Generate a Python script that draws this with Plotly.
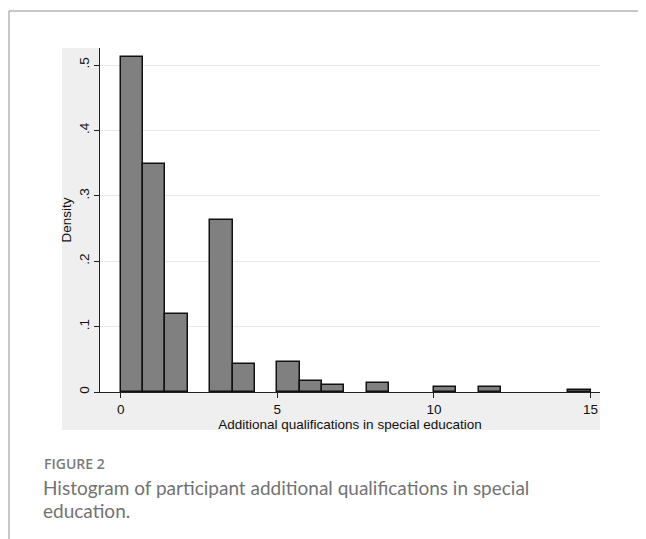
import numpy as np
import plotly.graph_objects as go

# ---- data ----
bin_start = 0.0
bin_end = 15.0
n_bins = 21
density = [0.512, 0.348, 0.119, 0.0, 0.263, 0.043, 0.0, 0.046, 0.017, 0.011,
           0.0, 0.014, 0.0, 0.0, 0.008, 0.0, 0.008, 0.0, 0.0, 0.0, 0.003]
x_tick_vals = [0, 5, 10, 15]
x_tick_text = ["0", "5", "10", "15"]
y_tick_vals = [0, 0.1, 0.2, 0.3, 0.4, 0.5]
y_tick_text = ["0", ".1", ".2", ".3", ".4", ".5"]
x_title = "Additional qualifications in special education"
y_title = "Density"
caption_label = "FIGURE 2"
caption_lines = ["Histogram of participant additional qualifications in special",
                 "education."]

bin_w = (bin_end - bin_start) / n_bins
centers = bin_start + bin_w * (np.arange(n_bins) + 0.5)
bar_heights = [v if v > 0 else None for v in density]  # empty bins draw nothing

OFF = 8  # page body margin
W, H = 646 - OFF, 539 - OFF
# plot area in page pixels: x 100..600, y 48..392
L, T = 100 - OFF, 48 - OFF
R = W - (600 - OFF)
B = H - (392 - OFF)
pw, ph = W - L - R, H - T - B


def px_x(p):
    return (p - OFF - L) / pw


def px_y(p):
    return (H - B - (p - OFF)) / ph


fig = go.Figure()
fig.add_trace(go.Bar(
    x=centers, y=bar_heights, width=bin_w,
    marker=dict(color="#808080", line=dict(color="#111111", width=1.5)),
    hoverinfo="skip",
))

axis_font = dict(family="Liberation Sans, Arial, sans-serif", size=13.5, color="#111111")

caption_font = dict(family="Lato, sans-serif", size=19, color="#727272")

fig.update_layout(
    width=W, height=H,
    margin=dict(l=L, r=R, t=T, b=B),
    paper_bgcolor="white",
    plot_bgcolor="rgba(0,0,0,0)",
    showlegend=False,
    bargap=0,
    xaxis=dict(
        range=[-0.66, 15.3], tickvals=x_tick_vals, ticktext=x_tick_text,
        showgrid=False, zeroline=False, showline=True, linecolor="#222222", linewidth=1,
        ticks="outside", ticklen=5, tickcolor="#222222", tickwidth=1,
        tickfont=axis_font,
        title=dict(text=x_title, font=axis_font, standoff=0),
    ),
    yaxis=dict(
        range=[0, 0.526], tickvals=y_tick_vals, ticktext=y_tick_text,
        showgrid=True, gridcolor="#e9e9e9", gridwidth=1,
        zeroline=False, showline=True, linecolor="#222222", linewidth=1,
        ticks="outside", ticklen=5, tickcolor="#222222", tickwidth=1,
        tickangle=-90, tickfont=axis_font,
        title=dict(text=y_title, font=axis_font, standoff=1),
    ),
    shapes=[
        # graph region (light gray)
        dict(type="rect", xref="paper", yref="paper",
             x0=px_x(62), x1=px_x(600), y0=px_y(430), y1=px_y(48),
             fillcolor="#efefef", line=dict(width=0), layer="below"),
        # plot region (white)
        dict(type="rect", xref="paper", yref="paper",
             x0=px_x(100), x1=px_x(600), y0=px_y(392), y1=px_y(48),
             fillcolor="white", line=dict(width=0), layer="below"),
        # page frame
        dict(type="line", xref="paper", yref="paper",
             x0=px_x(9), x1=px_x(9), y0=px_y(11), y1=px_y(545),
             line=dict(color="#b5b5b5", width=1.5), layer="below"),
        dict(type="line", xref="paper", yref="paper",
             x0=px_x(9), x1=px_x(650), y0=px_y(11), y1=px_y(11),
             line=dict(color="#b5b5b5", width=1.5), layer="below"),
    ],
    annotations=[
        dict(text=caption_label, xref="paper", yref="paper",
             x=px_x(42), y=px_y(463), xanchor="left", yanchor="middle", showarrow=False,
             font=dict(family="Open Sans, sans-serif", size=14, color="#7a7a7a", weight=600)),
        dict(text=caption_lines[0], xref="paper", yref="paper",
             x=px_x(41), y=px_y(487), xanchor="left", yanchor="middle", showarrow=False,
             font=caption_font),
        dict(text=caption_lines[1], xref="paper", yref="paper",
             x=px_x(41), y=px_y(510), xanchor="left", yanchor="middle", showarrow=False,
             font=caption_font),
    ],
)

fig.write_html("out.html")
